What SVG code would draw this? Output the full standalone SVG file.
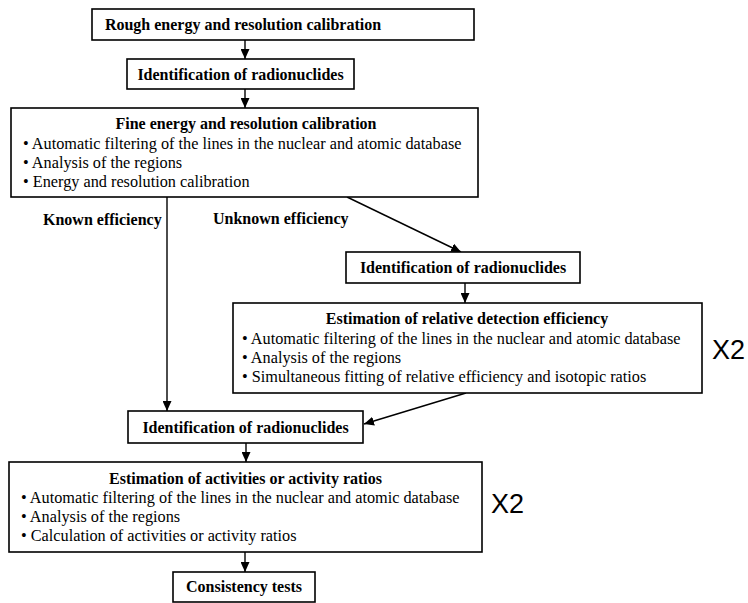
<svg xmlns="http://www.w3.org/2000/svg" width="748" height="603" viewBox="0 0 748 603">
<style>
.box{fill:#fff;stroke:#000;stroke-width:1.6}
.t{font-family:"Liberation Serif","Times New Roman",serif;font-size:16px;fill:#000}
.s{font-size:16.25px}
.b{font-weight:bold}
.c{text-anchor:middle}
.x{font-family:"Liberation Sans",Arial,sans-serif;font-size:27px;fill:#000}
.ln{stroke:#000;stroke-width:1.4;fill:none;marker-end:url(#ah)}
</style>
<defs>
<marker id="ah" markerUnits="userSpaceOnUse" markerWidth="11" markerHeight="9" refX="10" refY="4.5" orient="auto">
<path d="M0,0 L10,4.5 L0,9 z" fill="#000"/>
</marker>
</defs>
<rect width="748" height="603" fill="#fff"/>
<g id="connectors">
<line class="ln" x1="245" y1="40" x2="245" y2="59"/>
<line class="ln" x1="245" y1="89" x2="245" y2="108"/>
<line class="ln" x1="347" y1="197" x2="461" y2="252"/>
<line class="ln" x1="465" y1="283" x2="465" y2="303"/>
<line class="ln" x1="167" y1="197" x2="167" y2="411"/>
<line class="ln" x1="466" y1="393" x2="364" y2="424"/>
<line class="ln" x1="246" y1="443" x2="246" y2="462"/>
<line class="ln" x1="245" y1="552" x2="245" y2="572"/>
</g>
<g id="n1">
<rect class="box" x="92" y="9" width="382" height="31"/>
<text class="t b c" x="243" y="30">Rough energy and resolution calibration</text>
</g>
<g id="n2">
<rect class="box" x="127" y="59" width="227" height="30"/>
<text class="t b c" x="240.5" y="79.5">Identification of radionuclides</text>
</g>
<g id="n3">
<rect class="box" x="11" y="108" width="467" height="89"/>
<text class="t b c" x="246" y="129">Fine energy and resolution calibration</text>
<text class="t s" x="23" y="149">• Automatic filtering of the lines in the nuclear and atomic database</text>
<text class="t s" x="23" y="168">• Analysis of the regions</text>
<text class="t s" x="23" y="187">• Energy and resolution calibration</text>
</g>
<g id="lbl-known">
<text class="t b" x="43" y="225">Known efficiency</text>
</g>
<g id="lbl-unknown">
<text class="t b" x="213" y="224">Unknown efficiency</text>
</g>
<g id="n4">
<rect class="box" x="346" y="252" width="234" height="31"/>
<text class="t b c" x="463" y="273">Identification of radionuclides</text>
</g>
<g id="n5">
<rect class="box" x="233" y="303" width="469" height="90"/>
<text class="t b c" x="467" y="324">Estimation of relative detection efficiency</text>
<text class="t s" x="242" y="344">• Automatic filtering of the lines in the nuclear and atomic database</text>
<text class="t s" x="242" y="363">• Analysis of the regions</text>
<text class="t s" x="242" y="382">• Simultaneous fitting of relative efficiency and isotopic ratios</text>
</g>
<g id="x2a">
<text class="x" x="712" y="359">X2</text>
</g>
<g id="n6">
<rect class="box" x="128" y="411" width="235" height="32"/>
<text class="t b c" x="245.5" y="432.5">Identification of radionuclides</text>
</g>
<g id="n7">
<rect class="box" x="9" y="462" width="473" height="90"/>
<text class="t b c" x="245.5" y="484">Estimation of activities or activity ratios</text>
<text class="t s" x="21" y="503">• Automatic filtering of the lines in the nuclear and atomic database</text>
<text class="t s" x="21" y="522">• Analysis of the regions</text>
<text class="t s" x="21" y="541">• Calculation of activities or activity ratios</text>
</g>
<g id="x2b">
<text class="x" x="491" y="513">X2</text>
</g>
<g id="n8">
<rect class="box" x="173" y="572" width="142" height="30"/>
<text class="t b c" x="244" y="592">Consistency tests</text>
</g>
</svg>
